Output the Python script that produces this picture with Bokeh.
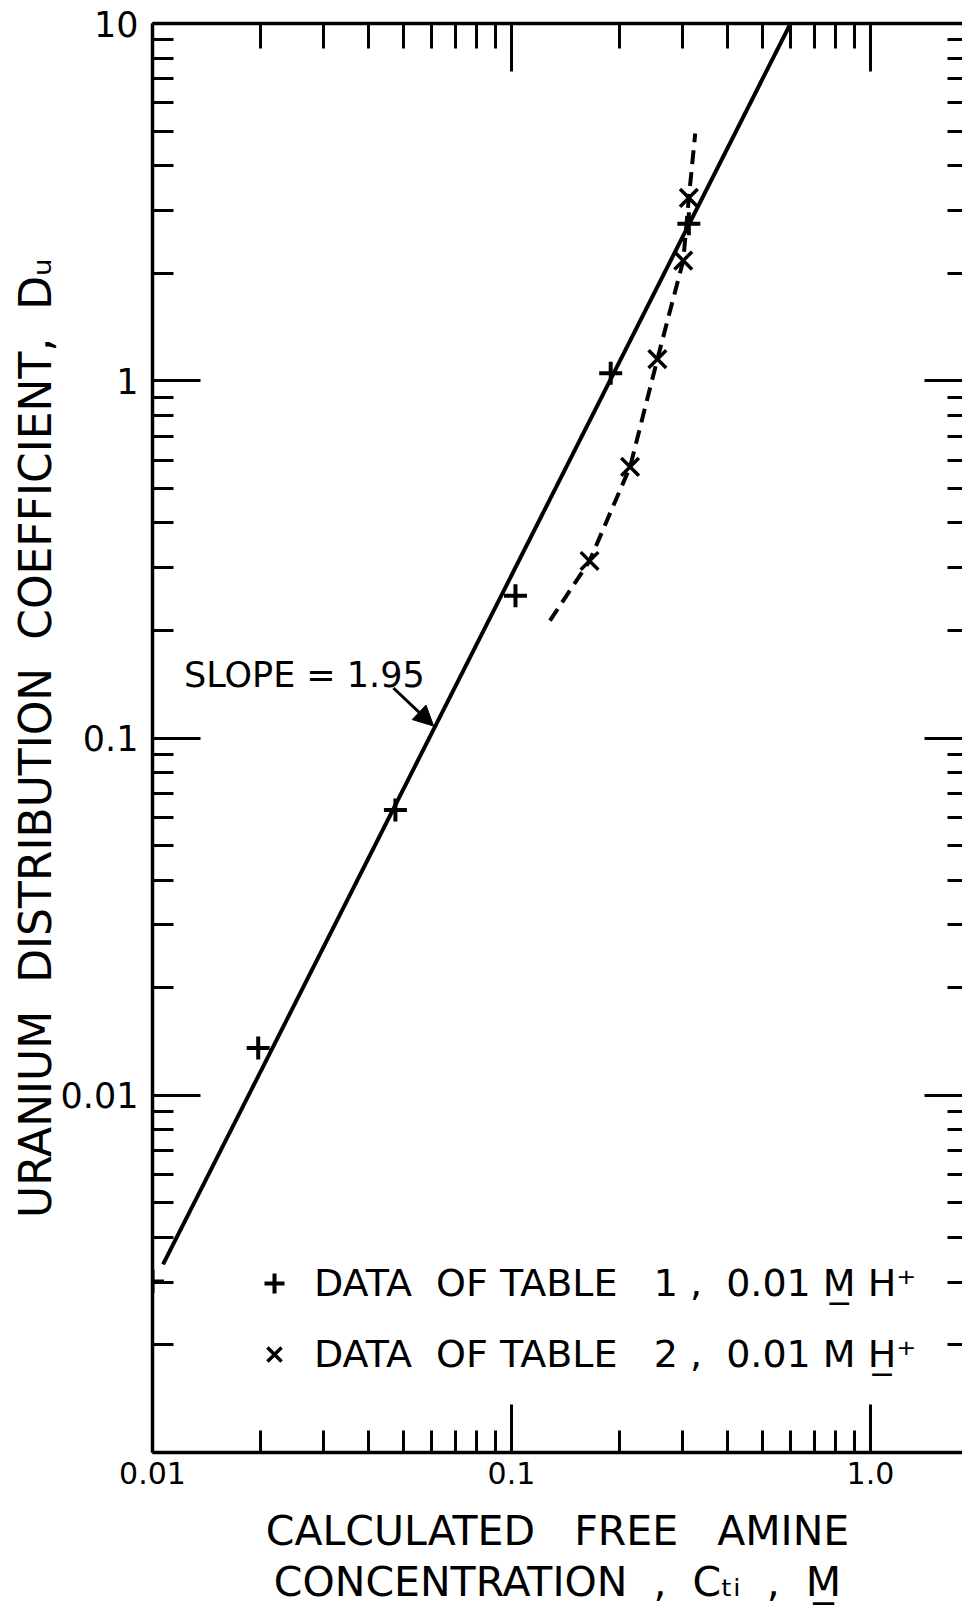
import math
from bokeh.plotting import figure
from bokeh.models import (LogAxis, FixedTicker, Label, Arrow, NormalHead, Legend,
                          LegendItem, CustomJSTickFormatter, Range1d)
from bokeh.embed import file_html
from bokeh.resources import INLINE

# ---------------- data ----------------
table1_x = [0.0100, 0.0197, 0.0475, 0.1026, 0.189, 0.312]
table1_y = [0.00301, 0.01355, 0.0629, 0.250, 1.05, 2.75]
table2_x = [0.165, 0.214, 0.255, 0.301, 0.312]
table2_y = [0.313, 0.574, 1.15, 2.17, 3.25]
fit_x = [0.0107, 0.599]
fit_y = [0.00336, 10.0]
curve_x = [0.128, 0.165, 0.214, 0.255, 0.301, 0.312, 0.325]
curve_y = [0.213, 0.313, 0.574, 1.15, 2.17, 3.25, 4.92]

x_major = [0.01, 0.1, 1.0]
x_labels = ["0.01", "0.1", "1.0"]
y_major = [0.001, 0.01, 0.1, 1.0, 10.0]
y_labels = ["", "0.01", "0.1", "1", "10"]
NB = "\u00a0"
legend_labels = ["DATA  OF TABLE   1 ,  0.01 M\u0332 H\u207a",
                 "DATA  OF TABLE   2 ,  0.01 M H\u0332\u207a"]
x_title_1 = "CALCULATED" + NB * 2 + " FREE" + NB * 2 + " AMINE"
x_title_2 = "CONCENTRATION" + NB + " ," + NB + " C\u209c\u1d62" + NB + " ," + NB + " M\u0332"
y_title = ("URANIUM" + NB + " DISTRIBUTION" + NB + " COEFFICIENT," + NB
           + " D\u1d64")
slope_text = "SLOPE = 1.95"
slope_pos = (0.01224, 0.1497)
arrow_tail = (0.0469, 0.138)
arrow_tip = (0.0607, 0.108)

# ---------------- geometry ----------------
X0, X1 = 0.01, 1.805
Y0, Y1 = 0.001, 10.0
FW, FH = 810, 1429
BL, BT, BB = 152, 23, 162
FONT = "DejaVu Sans"

x_minor = [k * 10.0 ** e for e in (-2, -1) for k in range(2, 10)]
y_minor = [k * 10.0 ** e for e in (-3, -2, -1, 0) for k in range(2, 10)]

p = figure(frame_width=FW, frame_height=FH, x_axis_type="log", y_axis_type="log",
           x_range=Range1d(X0, X1), y_range=Range1d(Y0, Y1),
           output_backend="svg", toolbar_location=None,
           min_border_left=BL, min_border_top=BT, min_border_bottom=BB, min_border_right=0,
           background_fill_color="white", border_fill_color="white")
p.outline_line_color = None
p.grid.visible = False


def style(ax, major_in, minor_in):
    ax.axis_line_color = "black"
    ax.axis_line_width = 3.5
    ax.major_tick_line_color = "black"
    ax.minor_tick_line_color = "black"
    ax.major_tick_line_width = 3
    ax.minor_tick_line_width = 3
    ax.major_tick_in = major_in
    ax.major_tick_out = 0
    ax.minor_tick_in = minor_in
    ax.minor_tick_out = 0


def hide_labels(ax):
    ax.formatter = CustomJSTickFormatter(code="return ''")
    ax.major_label_text_font_size = "0px"
    ax.major_label_text_color = None
    ax.major_label_standoff = 0


def title_style(ax, size, standoff):
    ax.axis_label_text_font = FONT
    ax.axis_label_text_font_size = size
    ax.axis_label_text_font_style = "normal"
    ax.axis_label_text_color = "black"
    ax.axis_label_standoff = standoff


# bottom axis (ticks, labels and first title line)
xa = p.xaxis[0]
xa.ticker = FixedTicker(ticks=x_major, minor_ticks=x_minor)
xa.major_label_overrides = {t: l for t, l in zip(x_major, x_labels)}
style(xa, 48, 22)
xa.major_label_text_font = FONT
xa.major_label_text_font_size = "30px"
xa.major_label_text_color = "black"
xa.major_label_standoff = 9
xa.axis_label = x_title_1
title_style(xa, "41px", 20)

# second line of the x title, carried by an extra bare axis below
xa2 = LogAxis(ticker=FixedTicker(ticks=[], minor_ticks=[]), axis_label=x_title_2)
style(xa2, 0, 0)
xa2.axis_line_color = None
xa2.major_tick_line_color = None
xa2.minor_tick_line_color = None
hide_labels(xa2)
title_style(xa2, "41px", 0)
p.add_layout(xa2, "below")

# left axis
ya = p.yaxis[0]
ya.ticker = FixedTicker(ticks=y_major, minor_ticks=y_minor)
ya.major_label_overrides = {t: l for t, l in zip(y_major, y_labels)}
style(ya, 48, 21)
ya.major_label_text_font = FONT
ya.major_label_text_font_size = "35px"
ya.major_label_text_color = "black"
ya.major_label_standoff = 14
ya.axis_label = y_title
title_style(ya, "44px", -3)

# top and right axes: ticks only
top = LogAxis(ticker=FixedTicker(ticks=x_major, minor_ticks=x_minor))
style(top, 48, 25)
hide_labels(top)
p.add_layout(top, "above")

right = LogAxis(ticker=FixedTicker(ticks=y_major, minor_ticks=y_minor))
style(right, 38, 15)
right.axis_line_color = None
hide_labels(right)
p.add_layout(right, "right")

# fitted line and dashed curve
p.line(fit_x, fit_y, line_color="black", line_width=4)
p.line(curve_x, curve_y, line_color="black", line_width=4, line_dash="14 8",
       line_join="round")

r1 = p.scatter(table1_x, table1_y, marker="cross", size=23, line_width=4,
               line_color="black", fill_color="black")
r2 = p.scatter(table2_x, table2_y, marker="x", size=25, line_width=3.5,
               line_color="black", fill_color="black")

legend = Legend(items=[LegendItem(label=legend_labels[0], renderers=[r1]),
                       LegendItem(label=legend_labels[1], renderers=[r2])],
                location=(96, 73), orientation="vertical",
                glyph_width=52, glyph_height=50, label_standoff=14, spacing=21,
                padding=0, margin=0, label_text_font=FONT, label_text_font_size="38px",
                label_text_color="black", border_line_color=None,
                background_fill_alpha=0)
p.add_layout(legend)

# slope annotation
p.add_layout(Label(x=slope_pos[0], y=slope_pos[1], text=slope_text, text_font=FONT,
                   text_font_size="35px", text_align="left", text_baseline="alphabetic",
                   text_color="black"))
p.add_layout(Arrow(end=NormalHead(size=20, fill_color="black", line_color="black"),
                   x_start=arrow_tail[0], y_start=arrow_tail[1],
                   x_end=arrow_tip[0], y_end=arrow_tip[1],
                   line_color="black", line_width=3))

open("out.html", "w").write(file_html(p, INLINE))
